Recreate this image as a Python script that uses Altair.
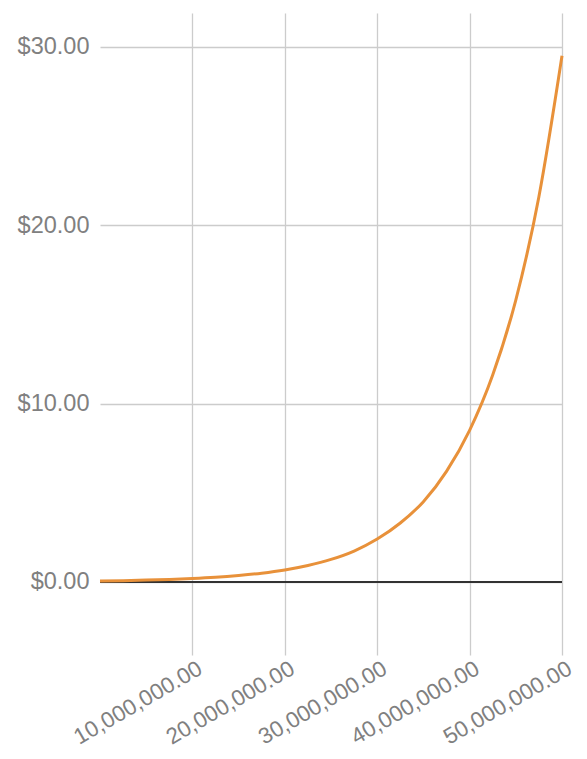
import altair as alt
import pandas as pd

# x values (units) and estimated y values (dollars)
x_vals = [0, 2.5e6, 5e6, 7.5e6, 10e6, 12.5e6, 15e6, 17.5e6, 20e6, 22.5e6, 25e6,
          27.5e6, 30e6, 32.5e6, 35e6, 37.5e6, 40e6, 42.5e6, 45e6, 47.5e6, 50e6]
y_vals = [0.05, 0.07, 0.10, 0.14, 0.19, 0.26, 0.36, 0.49, 0.67, 0.92, 1.26,
          1.73, 2.4, 3.3, 4.5, 6.2, 8.5, 11.6, 15.8, 21.6, 29.5]
x_ticks = [10e6, 20e6, 30e6, 40e6, 50e6]
y_ticks = [0, 10, 20, 30]

df = pd.DataFrame({"x": x_vals, "y": y_vals})

FONT = "Liberation Sans"
LABEL_COLOR = "#808080"

x_enc = alt.X("x:Q", scale=alt.Scale(domain=[0, 50e6], nice=False, zero=False),
              axis=alt.Axis(values=x_ticks, format=",.2f", title=None,
                            labelAngle=-30, labelAlign="right", labelBaseline="top",
                            labelOffset=2, labelPadding=2, labelFontSize=22.5,
                            labelFont=FONT, labelColor=LABEL_COLOR,
                            domain=False, ticks=False, grid=True,
                            gridColor="#cccccc", gridWidth=1.3, labelFlush=False,
                            labelOverlap=False))
y_enc = alt.Y("y:Q", scale=alt.Scale(domain=[-4.1, 31.9], nice=False, zero=False),
              axis=alt.Axis(values=y_ticks, format="$,.2f", title=None,
                            labelFontSize=23.5, labelFont=FONT, labelColor=LABEL_COLOR,
                            labelPadding=11, domain=False, ticks=False, grid=True,
                            gridColor="#cccccc", gridWidth=1.3, labelFlush=False))

line = alt.Chart(df).mark_line(color="#e8913a", strokeWidth=3, interpolate="monotone").encode(
    x=x_enc, y=y_enc)

zero = alt.Chart(df).mark_rule(color="#333333", strokeWidth=1.5).encode(
    y=alt.datum(0))

chart = alt.layer(zero, line).properties(
    width=462, height=642,
    background="white",
    autosize=alt.AutoSizeParams(type="none"),
    padding={"left": 92, "top": 5, "right": 17, "bottom": 96},
).configure_view(stroke=None)

chart.save("out.html", embed_options={"renderer": "svg", "actions": False})
